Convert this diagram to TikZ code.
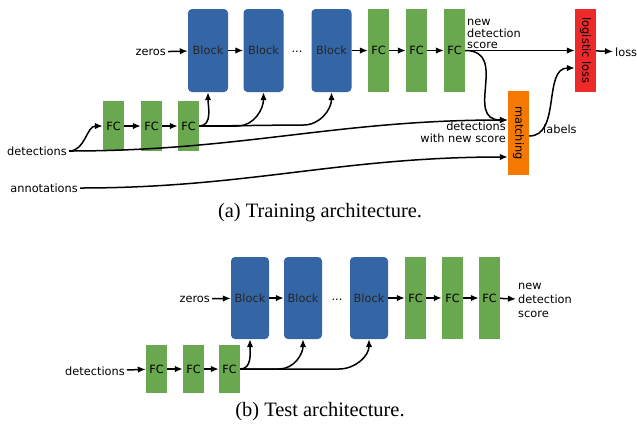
\documentclass[tikz,border=0pt]{standalone}
\usepackage{fontspec}
\setmainfont{Liberation Serif}
\newfontfamily\dvfont{DejaVu Sans}
\usetikzlibrary{arrows.meta,calc}
\definecolor{blockblue}{RGB}{52,101,164}
\definecolor{fcgreen}{RGB}{106,168,79}
\definecolor{matchorange}{RGB}{245,121,0}
\definecolor{lossred}{RGB}{237,41,41}
\newcommand{\lbl}{\dvfont\fontsize{11.4}{11.6}\selectfont}
\newcommand{\lblb}{\dvfont\fontsize{11.4}{14}\selectfont}
\begin{document}
\begin{tikzpicture}[x=1bp,y=-1bp,
  blk/.style={fill=blockblue, rounded corners=4bp, minimum width=40bp, minimum height=83bp, inner sep=0pt, font=\lbl, text=black!85},
  blkb/.style={blk, minimum width=38bp, minimum height=82bp},
  fcbox/.style={fill=fcgreen, minimum width=21bp, minimum height=83bp, inner sep=0pt, font=\lbl},
  fcboxb/.style={fcbox, minimum height=82bp},
  fcsmall/.style={fcbox, minimum height=50bp},
  fcsmallb/.style={fcbox, minimum height=48bp},
  txt/.style={font=\lbl, inner sep=2bp},
  txtb/.style={font=\lblb, inner sep=2bp},
  arr/.style={-{Latex[length=8bp,width=6.5bp]}, line width=1.5bp},
  captxt/.style={font=\fontsize{20.5}{22}\selectfont}
]
\useasboundingbox (0,0) rectangle (637,424);

% ---------- (a) training ----------
\node[blk] (a1) at (208,50.5) {Block};
\node[blk] (a2) at (263.5,50.5) {Block};
\node[txt] (adots) at (297,52) {...};
\node[blk] (a3) at (331.5,50.5) {Block};
\node[fcbox] (af1) at (378.5,50.5) {FC};
\node[fcbox] (af2) at (416.5,50.5) {FC};
\node[fcbox] (af3) at (454.5,50.5) {FC};
\node[fill=lossred, minimum width=21bp, minimum height=83bp, inner sep=0pt,
      label={[rotate=-90,font=\lbl]center:logistic loss}] (ll) at (585.5,50.5) {};
\node[fill=matchorange, minimum width=21bp, minimum height=84bp, inner sep=0pt,
      label={[rotate=-90,font=\lbl]center:matching}] (m) at (518.5,133) {};
\node[txt, anchor=east] (azeros) at (168,52) {zeros};
\node[txt, anchor=west] (aloss) at (613,52) {loss};
\node[txt, anchor=west, align=left] (anew) at (465,34) {new\\detection\\score};
\node[txt, anchor=east, align=right] (adws) at (508,132.5) {detections\\with new score};
\node[txt, anchor=west] (alabels) at (541,129) {labels};
\node[txt, anchor=east] (adet) at (69,151) {detections};
\node[txt, anchor=east] (aann) at (80,188) {annotations};
\node[fcsmall] (ag1) at (113.5,126) {FC};
\node[fcsmall] (ag2) at (151.5,126) {FC};
\node[fcsmall] (ag3) at (188.5,126) {FC};

\draw[arr] (azeros) -- (a1);
\draw[arr] (a1) -- (a2);
\draw[arr] (a3) -- (af1);
\draw[arr] (af1) -- (af2);
\draw[arr] (af2) -- (af3);
\draw[arr] (af3) -- (ll);
\draw[arr] (ll) -- (aloss);
\draw[arr] (ag1) -- (ag2);
\draw[arr] (ag2) -- (ag3);
\draw[arr] (adet.east) to[out=0,in=180] (ag1.west);
\draw[arr] (ag3.east) to[out=0,in=-90] (a1.south);
\draw[arr] (ag3.east) -- ($(a2.south|-ag3.east)+(-26,0)$) to[out=0,in=-90] (a2.south);
\draw[arr] (ag3.east) to[out=0,in=180,looseness=0.6] ($(a3.south|-ag3.east)+(-28,-1)$) to[out=0,in=-90] (a3.south);
\draw[arr] (af3.east) to[out=0,in=180,looseness=1.4] ([yshift=13bp]m.west);
\draw[arr] (adet.east) to[out=0,in=180] ([yshift=13bp]m.west);
\draw[arr] (aann.east) to[out=0,in=180] ([yshift=-24bp]m.west);
\draw[arr] ([yshift=-3bp]m.east) to[out=0,in=180] ([yshift=-17.5bp]ll.west);

\node[captxt] (capa) at (320,213) {(a) Training architecture.};

% ---------- (b) test ----------
\node[blkb] (b1) at (250,298) {Block};
\node[blkb] (b2) at (303,298) {Block};
\node[txt] (bdots) at (337,300) {...};
\node[blkb] (b3) at (369,298) {Block};
\node[fcboxb] (bf1) at (415.5,298) {FC};
\node[fcboxb] (bf2) at (452.5,298) {FC};
\node[fcboxb] (bf3) at (489.5,298) {FC};
\node[txtb, anchor=west, align=left] (bnew) at (516,300) {new\\detection\\score};
\node[txt, anchor=east] (bzeros) at (212,299) {zeros};
\node[fcsmallb] (bg1) at (156.5,369) {FC};
\node[fcsmallb] (bg2) at (193.5,369) {FC};
\node[fcsmallb] (bg3) at (229.5,369) {FC};
\node[txt, anchor=east] (bdet) at (127,371) {detections};

\draw[arr] (bzeros) -- (b1);
\draw[arr] (b1) -- (b2);
\draw[arr] (b3) -- (bf1);
\draw[arr] (bf1) -- (bf2);
\draw[arr] (bf2) -- (bf3);
\draw[arr] (bf3) -- (bnew);
\draw[arr] (bdet) -- (bg1);
\draw[arr] (bg1) -- (bg2);
\draw[arr] (bg2) -- (bg3);
\draw[arr] (bg3.east) to[out=0,in=-90] (b1.south);
\draw[arr] (bg3.east) -- ($(b2.south|-bg3.east)+(-24,0)$) to[out=0,in=-90] (b2.south);
\draw[arr] (bg3.east) -- ($(b3.south|-bg3.east)+(-30,0)$) to[out=0,in=-90] (b3.south);

\node[captxt] (capb) at (320,412) {(b) Test architecture.};
\end{tikzpicture}
\end{document}
